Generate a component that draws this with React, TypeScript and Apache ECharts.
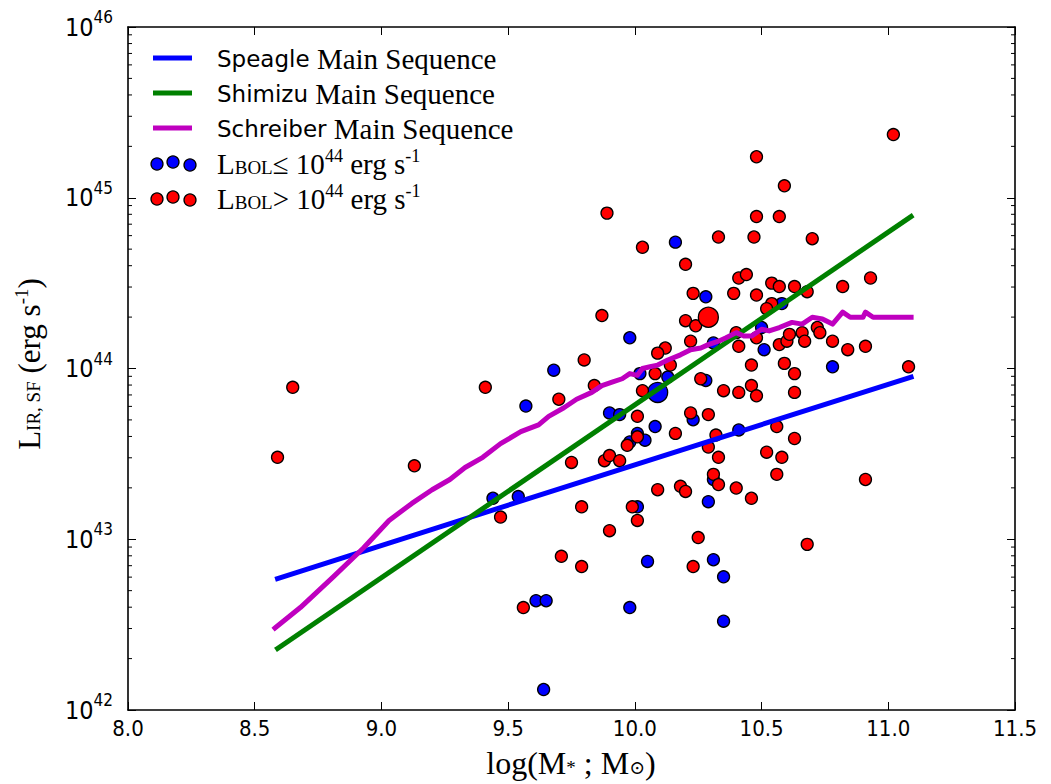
import React, { useEffect, useRef } from "react";
import * as echarts from "echarts";

// ---------- data (log10 units) ----------
const xTickValues = [8.0, 8.5, 9.0, 9.5, 10.0, 10.5, 11.0, 11.5];
const yDecades = [42, 43, 44, 45, 46];

const speagleMS = [
  [8.59, 42.77],
  [11.09, 43.95],
];
const shimizuMS = [
  [8.59, 42.36],
  [11.09, 44.89],
];
const schreiberMS = [
  [8.58, 42.48], [8.68, 42.6], [8.81, 42.78], [8.93, 42.95], [9.03, 43.11], [9.12, 43.21],
  [9.2, 43.29], [9.27, 43.35], [9.33, 43.42], [9.4, 43.48], [9.47, 43.56], [9.55, 43.63],
  [9.62, 43.67], [9.66, 43.72], [9.72, 43.77], [9.77, 43.82], [9.83, 43.86], [9.87, 43.9],
  [9.91, 43.92], [9.95, 43.94], [9.98, 43.97], [10.01, 43.96], [10.03, 44.0], [10.06, 44.01],
  [10.09, 44.02], [10.13, 44.05], [10.18, 44.08], [10.22, 44.11], [10.26, 44.12], [10.29, 44.14],
  [10.33, 44.16], [10.36, 44.18], [10.4, 44.21], [10.43, 44.19], [10.46, 44.19], [10.5, 44.23],
  [10.53, 44.22], [10.57, 44.24], [10.62, 44.27], [10.66, 44.26], [10.7, 44.3], [10.74, 44.29],
  [10.78, 44.26], [10.82, 44.33], [10.85, 44.3], [10.9, 44.3], [10.91, 44.33], [10.94, 44.3],
  [11.09, 44.3],
];

// L_BOL <= 1e44 (blue)
const lowLbolPoints = [
  [10.16, 44.74], [9.98, 44.18], [9.68, 43.99], [10.02, 43.97], [10.13, 43.95], [9.57, 43.78],
  [9.9, 43.74], [9.94, 43.73], [10.08, 43.66], [10.01, 43.62], [9.98, 43.57], [10.04, 43.58],
  [9.44, 43.24], [9.54, 43.25], [10.01, 43.19], [10.05, 42.87], [9.61, 42.64], [9.65, 42.64],
  [9.98, 42.6], [9.64, 42.12], [10.28, 44.42], [10.31, 44.15], [10.5, 44.24], [10.51, 44.11],
  [10.58, 44.38], [10.78, 44.01], [10.28, 43.93], [10.23, 43.7], [10.41, 43.64], [10.31, 43.35],
  [10.29, 43.22], [10.31, 42.88], [10.35, 42.78], [10.35, 42.52],
];
const lowLbolBig = [[10.09, 43.86]];

// L_BOL > 1e44 (red)
const highLbolPoints = [
  [8.59, 43.48], [8.65, 43.89], [9.13, 43.43], [9.41, 43.89], [9.89, 44.91], [10.03, 44.71],
  [9.87, 44.31], [10.12, 44.12], [10.09, 44.09], [9.8, 44.05], [9.84, 43.9], [10.14, 44.02],
  [10.08, 43.97], [9.7, 43.82], [10.03, 43.87], [10.01, 43.72], [10.16, 43.62], [10.01, 43.6],
  [9.97, 43.55], [9.75, 43.45], [9.88, 43.46], [9.9, 43.49], [9.94, 43.46], [9.47, 43.13],
  [9.79, 43.19], [9.99, 43.19], [10.01, 43.11], [10.09, 43.29], [10.18, 43.31], [10.2, 43.28],
  [9.9, 43.05], [9.71, 42.9], [9.79, 42.84], [9.56, 42.6], [10.2, 44.61], [10.33, 44.77],
  [10.23, 44.44], [10.2, 44.28], [10.24, 44.25], [10.22, 44.16], [10.26, 43.94], [10.35, 43.87],
  [10.22, 43.74], [10.29, 43.73], [10.32, 43.61], [10.29, 43.54], [10.33, 43.48], [10.31, 43.38],
  [10.33, 43.32], [10.25, 43.01], [10.23, 42.84], [10.48, 45.24], [10.59, 45.07], [10.48, 44.89],
  [10.57, 44.89], [10.47, 44.77], [10.7, 44.76], [10.41, 44.53], [10.44, 44.55], [10.39, 44.44],
  [10.48, 44.43], [10.54, 44.5], [10.57, 44.48], [10.63, 44.48], [10.68, 44.45], [10.82, 44.48],
  [10.93, 44.53], [11.02, 45.37], [10.54, 44.38], [10.52, 44.35], [10.4, 44.21], [10.48, 44.18],
  [10.41, 44.13], [10.57, 44.14], [10.6, 44.16], [10.61, 44.2], [10.66, 44.21], [10.67, 44.16],
  [10.72, 44.24], [10.73, 44.21], [10.78, 44.16], [10.84, 44.11], [10.91, 44.13], [10.46, 44.02],
  [10.59, 44.03], [10.63, 43.97], [11.08, 44.01], [10.41, 43.86], [10.46, 43.9], [10.48, 43.84],
  [10.63, 43.86], [10.56, 43.66], [10.63, 43.59], [10.52, 43.51], [10.58, 43.48], [10.56, 43.38],
  [10.4, 43.3], [10.46, 43.24], [10.91, 43.35], [10.68, 42.97],
];
const highLbolBig = [[10.29, 44.3]];

const legendLabels = [
  "Speagle Main Sequence",
  "Shimizu Main Sequence",
  "Schreiber Main Sequence",
];

// minor log ticks (2..9 x 10^n)
const minorTicks: number[] = [];
for (let d = yDecades[0]; d < yDecades[yDecades.length - 1]; d++) {
  for (let k = 2; k <= 9; k++) minorTicks.push(d + Math.log10(k));
}

const BLUE = "#0000ff";
const GREEN = "#008000";
const MAGENTA = "#bf00bf";
const RED = "#ff0000";
const SANS = "'DejaVu Sans Condensed', Roboto, 'DejaVu Sans', sans-serif";
const SANS_LEGEND = "'DejaVu Sans', sans-serif";
const SERIF = "'Liberation Serif', 'DejaVu Serif', serif";

export default function App() {
  const ref = useRef<HTMLDivElement>(null);

  useEffect(() => {
    if (!ref.current) return;
    const chart = echarts.init(ref.current, undefined, { renderer: "svg" });

    const xMin = xTickValues[0];
    const xMax = xTickValues[xTickValues.length - 1];
    const yMin = yDecades[0];
    const yMax = yDecades[yDecades.length - 1];

    const axisLine = { show: true, lineStyle: { color: "#000", width: 1.6 } };
    const tick = { show: true, inside: true, length: 8, lineStyle: { color: "#000", width: 1 } };

    const scatterStyle = (color: string) => ({
      color,
      borderColor: "#000",
      borderWidth: 1.3,
      opacity: 1,
    });

    const legendY = [58, 93, 128];
    const legendColors = [BLUE, GREEN, MAGENTA];
    const graphic: any[] = [];
    legendLabels.forEach((label, i) => {
      graphic.push({
        type: "line",
        shape: { x1: 153, y1: legendY[i], x2: 192, y2: legendY[i] },
        style: { stroke: legendColors[i], lineWidth: 5 },
        z: 100,
      });
      const sp = label.indexOf(" ");
      graphic.push({
        type: "text",
        x: 217,
        y: legendY[i] + 1,
        z: 100,
        style: {
          text: `{s|${label.slice(0, sp)} }{r|${label.slice(sp + 1)}}`,
          verticalAlign: "middle",
          rich: {
            s: { fontFamily: SANS_LEGEND, fontSize: 23, fill: "#000" },
            r: { fontFamily: SERIF, fontSize: 29, fill: "#000" },
          },
        },
      });
    });
    const dotX = [157, 173, 190];
    const dotDy = [1, -1, 2];
    [
      { color: BLUE, y: 163, rel: "≤" },
      { color: RED, y: 198, rel: ">" },
    ].forEach((row) => {
      dotX.forEach((x, j) => {
        graphic.push({
          type: "circle",
          shape: { cx: x, cy: row.y + dotDy[j], r: 6 },
          style: { fill: row.color, stroke: "#000", lineWidth: 1.3 },
          z: 100,
        });
      });
      graphic.push({
        type: "text",
        x: 217,
        y: row.y + 1,
        z: 100,
        style: {
          text: `{t|L}{sub|BOL}{t|${row.rel} 10}{sup|44}{t| erg s}{sup|-1}`,
          verticalAlign: "middle",
          rich: {
            t: { fontFamily: SERIF, fontSize: 29, fill: "#000" },
            sub: { fontFamily: SERIF, fontSize: 19, fill: "#000", padding: [6, 0, 0, 0] },
            sup: { fontFamily: SERIF, fontSize: 18, fill: "#000", padding: [0, 0, 16, 0] },
          },
        },
      });
    });

    // axis titles
    graphic.push({
      type: "text",
      x: 571,
      y: 763,
      style: {
        text: "{t|log(M}{sub|*}{t| ; M}{sub|⊙}{t|)}",
        align: "center",
        verticalAlign: "middle",
        rich: {
          t: { fontFamily: SERIF, fontSize: 32, fill: "#000" },
          sub: { fontFamily: SERIF, fontSize: 19, fill: "#000", padding: [9, 0, 0, 0] },
        },
      },
    });
    graphic.push({
      type: "text",
      x: 29,
      y: 364,
      rotation: Math.PI / 2,
      style: {
        text: "{t|L}{sub|IR, SF}{t| (erg s}{sup|-1}{t|)}",
        align: "center",
        verticalAlign: "middle",
        rich: {
          t: { fontFamily: SERIF, fontSize: 31, fill: "#000" },
          sub: { fontFamily: SERIF, fontSize: 19, fill: "#000", padding: [8, 0, 0, 0] },
          sup: { fontFamily: SERIF, fontSize: 19, fill: "#000", padding: [0, 0, 16, 0] },
        },
      },
    });

    const lineSeries = (name: string, data: number[][], color: string) => ({
      name,
      type: "line",
      data,
      showSymbol: false,
      symbol: "none",
      z: 5,
      lineStyle: { color, width: 5, cap: "square", join: "round" },
      silent: true,
    });

    const option: any = {
      animation: false,
      backgroundColor: "#fff",
      grid: { left: 128, top: 27, width: 887, height: 683, containLabel: false },
      xAxis: [
        {
          type: "value",
          min: xMin,
          max: xMax,
          interval: 0.5,
          axisLine,
          axisTick: tick,
          splitLine: { show: false },
          axisLabel: {
            margin: 7,
            fontFamily: SANS,
            fontSize: 22,
            color: "#000",
            formatter: (v: number) => v.toFixed(1),
          },
        },
        {
          type: "value",
          position: "top",
          min: xMin,
          max: xMax,
          interval: 0.5,
          axisLine,
          axisTick: tick,
          splitLine: { show: false },
          axisLabel: { show: false },
        },
      ],
      yAxis: [
        {
          type: "value",
          min: yMin,
          max: yMax,
          interval: 1,
          axisLine,
          axisTick: tick,
          splitLine: { show: false },
          axisLabel: {
            margin: 15,
            color: "#000",
            formatter: (v: number) => `{a|10}{b|${v}}`,
            rich: {
              a: { fontFamily: SANS, fontSize: 25, color: "#000" },
              b: { fontFamily: SANS, fontSize: 17, color: "#000", padding: [0, 0, 20, 0] },
            },
          },
        },
        {
          type: "value",
          position: "right",
          min: yMin,
          max: yMax,
          interval: 1,
          axisLine,
          axisTick: tick,
          splitLine: { show: false },
          axisLabel: { show: false },
        },
      ],
      graphic,
      series: [
        {
          type: "custom",
          silent: true,
          z: 6,
          renderItem: (params: any, api: any) => {
            const v = api.value(1);
            const p = api.coord([xMin, v]);
            const q = api.coord([xMax, v]);
            return {
              type: "group",
              children: [
                { type: "line", shape: { x1: p[0], y1: p[1], x2: p[0] + 4, y2: p[1] }, style: { stroke: "#000", lineWidth: 1 } },
                { type: "line", shape: { x1: q[0] - 4, y1: q[1], x2: q[0], y2: q[1] }, style: { stroke: "#000", lineWidth: 1 } },
              ],
            };
          },
          data: minorTicks.map((v) => [xMin, v]),
        },
        {
          name: "lowLbol",
          type: "scatter",
          data: lowLbolPoints,
          symbol: "circle",
          symbolSize: 12,
          itemStyle: scatterStyle(BLUE),
          z: 2,
        },
        {
          name: "lowLbolBig",
          type: "scatter",
          data: lowLbolBig,
          symbol: "circle",
          symbolSize: 20,
          itemStyle: scatterStyle(BLUE),
          z: 2,
        },
        {
          name: "highLbol",
          type: "scatter",
          data: highLbolPoints,
          symbol: "circle",
          symbolSize: 12,
          itemStyle: scatterStyle(RED),
          z: 3,
        },
        {
          name: "highLbolBig",
          type: "scatter",
          data: highLbolBig,
          symbol: "circle",
          symbolSize: 20,
          itemStyle: scatterStyle(RED),
          z: 3,
        },
        lineSeries(legendLabels[0], speagleMS, BLUE),
        lineSeries(legendLabels[1], shimizuMS, GREEN),
        lineSeries(legendLabels[2], schreiberMS, MAGENTA),
      ],
    };

    chart.setOption(option);
    return () => chart.dispose();
  }, []);

  return (
    <div
      ref={ref}
      style={{ position: "fixed", left: 0, top: 0, width: 1051, height: 784, background: "#fff" }}
    />
  );
}
